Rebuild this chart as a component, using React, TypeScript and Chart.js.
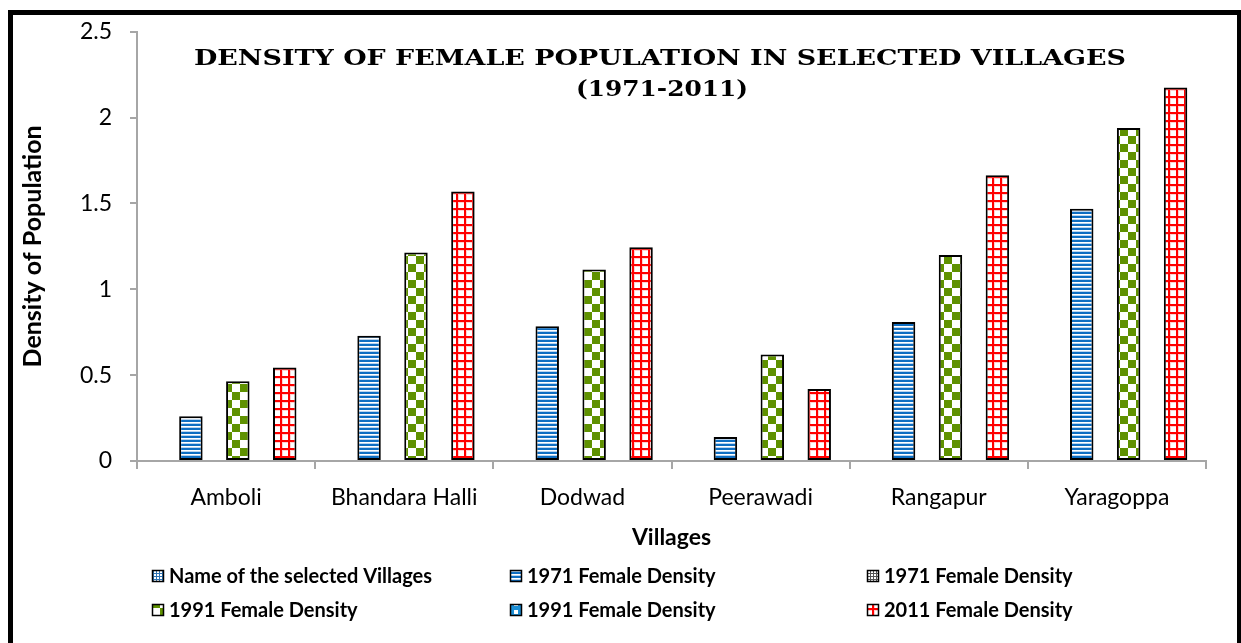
import React, { useEffect, useRef } from 'react';
import { Chart, registerables } from 'chart.js';

Chart.register(...registerables);

// ---------- data ----------
const villages = ['Amboli', 'Bhandara Halli', 'Dodwad', 'Peerawadi', 'Rangapur', 'Yaragoppa'];
const seriesLabels = [
  'Name of the selected Villages',
  '1971 Female Density',
  '1971 Female Density',
  '1991 Female Density',
  '1991 Female Density',
  '2011 Female Density',
];
const emptySeries: (number | null)[] = [null, null, null, null, null, null];
const density1971 = [0.26, 0.73, 0.785, 0.14, 0.81, 1.47];
const density1991 = [0.465, 1.215, 1.115, 0.62, 1.2, 1.94];
const density2011 = [0.545, 1.57, 1.245, 0.42, 1.665, 2.175];
const yTickValues = [0, 0.5, 1, 1.5, 2, 2.5];
const chartTitle = ['DENSITY OF FEMALE POPULATION IN SELECTED VILLAGES', '(1971-2011)'];
const xAxisTitle = 'Villages';
const yAxisTitle = 'Density of Population';

const SANS = 'Lato, "Open Sans", sans-serif';
const SERIF = '"DejaVu Serif", "Liberation Serif", serif';

type Kind = 'dots' | 'stripes' | 'grey' | 'checker' | 'diamond' | 'grid';
const seriesKinds: Kind[] = ['dots', 'stripes', 'grey', 'checker', 'diamond', 'grid'];

function makePattern(kind: Kind): CanvasPattern | string {
  const c = document.createElement('canvas');
  let s = 8;
  if (kind === 'stripes') s = 4;
  if (kind === 'checker') s = 16;
  if (kind === 'dots' || kind === 'grey') s = 3;
  c.width = s;
  c.height = s;
  const g = c.getContext('2d');
  if (!g) return '#888';
  g.fillStyle = '#ffffff';
  g.fillRect(0, 0, s, s);
  if (kind === 'stripes') {
    g.fillStyle = '#0E6EC2';
    g.fillRect(0, 0, s, 2);
    g.fillStyle = '#B9D4EE';
    g.fillRect(0, 3, s, 1);
  } else if (kind === 'checker') {
    g.fillStyle = '#5F9100';
    g.fillRect(0, 0, 8, 8);
    g.fillRect(8, 8, 8, 8);
  } else if (kind === 'grid') {
    g.fillStyle = '#FFD0D0';
    g.fillRect(0, 2, s, 1);
    g.fillRect(2, 0, 1, s);
    g.fillStyle = '#FF0000';
    g.fillRect(0, 0, s, 2);
    g.fillRect(0, 0, 2, s);
  } else if (kind === 'dots') {
    g.fillStyle = '#2E75B6';
    g.fillRect(0, 0, s, 1);
    g.fillRect(0, 0, 1, s);
  } else if (kind === 'grey') {
    g.fillStyle = '#555555';
    g.fillRect(0, 0, s, 1);
    g.fillRect(0, 0, 1, s);
  } else if (kind === 'diamond') {
    g.fillStyle = '#1C8FD6';
    g.fillRect(0, 0, s, s);
    g.fillStyle = '#ffffff';
    g.fillRect(2, 2, 4, 4);
  }
  const p = g.createPattern(c, 'repeat');
  return p || '#888';
}

// draw centred text, stretched horizontally to a target width (wide display serif look)
function fitText(ctx: CanvasRenderingContext2D, text: string, x: number, y: number, target: number) {
  const w = ctx.measureText(text).width;
  const k = w > 0 ? target / w : 1;
  ctx.save();
  ctx.translate(x, y);
  ctx.scale(k, 1);
  ctx.fillText(text, 0, 0);
  ctx.restore();
}

// ---------- plugins: frame, overlaid title, grid legend ----------
const framePlugin = {
  id: 'frameAndText',
  beforeDraw(chart: any) {
    const ctx = chart.ctx as CanvasRenderingContext2D;
    ctx.save();
    ctx.fillStyle = '#ffffff';
    ctx.fillRect(0, 0, chart.width, chart.height);
    ctx.restore();
  },
  afterDraw(chart: any) {
    const ctx = chart.ctx as CanvasRenderingContext2D;
    ctx.save();
    // outer black frame
    ctx.strokeStyle = '#000000';
    ctx.lineWidth = 5;
    ctx.strokeRect(10.5, 12.5, 1229, 660);

    // title (overlays plot area, as in the original)
    ctx.fillStyle = '#000000';
    ctx.font = `bold 23px ${SERIF}`;
    ctx.textAlign = 'center';
    ctx.textBaseline = 'middle';
    fitText(ctx, chartTitle[0], 660, 59, 932);
    fitText(ctx, chartTitle[1], 662, 90, 172);

    // legend in a 3-column grid
    const colX = [152, 510, 867];
    const rowY = [576, 610];
    ctx.font = `bold 20px ${SANS}`;
    ctx.textAlign = 'left';
    chart.data.datasets.forEach((ds: any, i: number) => {
      const cx = colX[i % 3];
      const cy = rowY[Math.floor(i / 3)];
      const box = 12;
      ctx.fillStyle = ds.legendFill;
      ctx.fillRect(cx, cy - box / 2, box, box);
      ctx.strokeStyle = '#000000';
      ctx.lineWidth = 1.5;
      ctx.strokeRect(cx + 0.5, cy - box / 2 + 0.5, box - 1, box - 1);
      ctx.fillStyle = '#000000';
      ctx.fillText(ds.label, cx + 17, cy + 1);
    });
    ctx.restore();
  },
};

export default function App() {
  const ref = useRef<HTMLCanvasElement | null>(null);

  useEffect(() => {
    const canvas = ref.current;
    if (!canvas) return;
    const fills = seriesKinds.map((k) => makePattern(k));
    const seriesData = [emptySeries, density1971, emptySeries, density1991, emptySeries, density2011];
    const axisGrey = '#A6A6A6';

    const chart = new Chart(canvas, {
      type: 'bar',
      data: {
        labels: villages,
        datasets: seriesLabels.map((label, i) => ({
          label,
          data: seriesData[i],
          backgroundColor: fills[i],
          legendFill: fills[i],
          borderColor: '#000000',
          borderWidth: 2,
          borderSkipped: false,
          barPercentage: 1,
          categoryPercentage: 0.79,
        })) as any,
      },
      options: {
        responsive: false,
        animation: false,
        devicePixelRatio: 1,
        layout: { padding: { left: 0, top: 31, right: 35, bottom: 0 } },
        plugins: {
          legend: { display: false },
          title: { display: false },
          tooltip: { enabled: false },
        },
        scales: {
          x: {
            grid: {
              display: true,
              drawOnChartArea: false,
              drawTicks: true,
              tickLength: 8,
              color: axisGrey,
              lineWidth: 2,
              offset: true,
            },
            border: { display: true, color: axisGrey, width: 2 },
            ticks: {
              color: '#000000',
              font: { family: SANS, size: 23 },
              padding: 15,
              maxRotation: 0,
              autoSkip: false,
            },
            title: {
              display: true,
              text: xAxisTitle,
              color: '#000000',
              font: { family: SANS, size: 23, weight: 'bold' },
              padding: { top: 0, bottom: 92 },
            },
            afterFit: (s: any) => {
              s.height = 182;
            },
          },
          y: {
            min: 0,
            max: 2.5,
            afterBuildTicks: (s: any) => {
              s.ticks = yTickValues.map((v) => ({ value: v }));
            },
            grid: {
              display: true,
              drawOnChartArea: false,
              drawTicks: true,
              tickLength: 7,
              color: axisGrey,
              lineWidth: 2,
            },
            border: { display: true, color: axisGrey, width: 2 },
            ticks: {
              color: '#000000',
              font: { family: SANS, size: 23 },
              padding: 18,
              callback: (v: any) => String(v),
            },
            title: {
              display: true,
              text: yAxisTitle,
              color: '#000000',
              font: { family: SANS, size: 25, weight: 'bold' },
              padding: { top: 18, bottom: 0 },
            },
            afterFit: (s: any) => {
              s.width = 137;
            },
          },
        },
      } as any,
      plugins: [framePlugin],
    });
    return () => chart.destroy();
  }, []);

  return (
    <div style={{ position: 'fixed', left: 0, top: 0, width: 1241, height: 643, background: '#fff' }}>
      <canvas ref={ref} width={1241} height={643} style={{ display: 'block', width: 1241, height: 643 }} />
    </div>
  );
}
